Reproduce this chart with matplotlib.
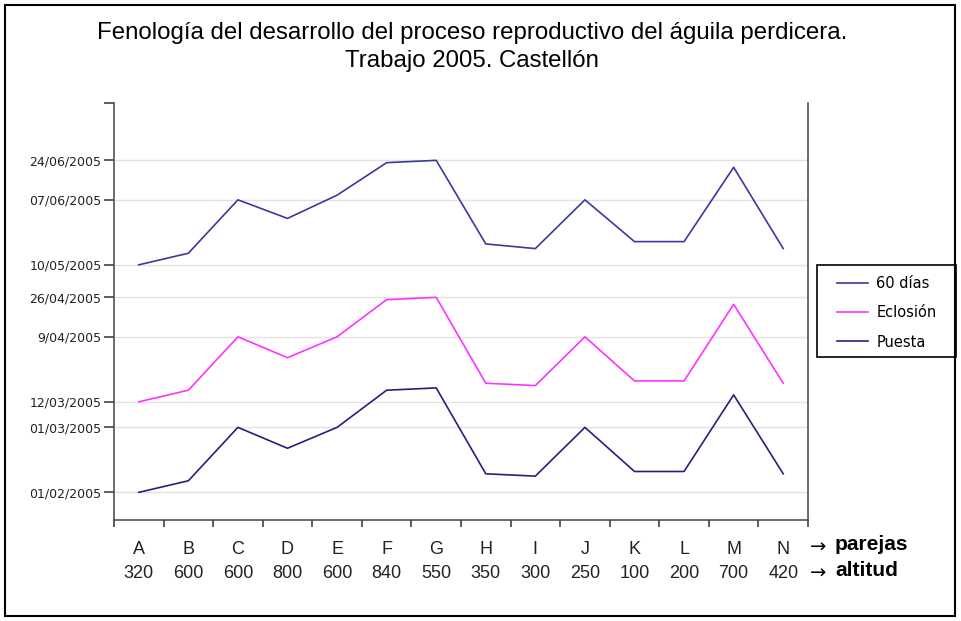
import matplotlib
matplotlib.use('Agg')
import matplotlib.pyplot as plt
import matplotlib.dates as mdates
import matplotlib.transforms as mtransforms
from matplotlib.patches import Rectangle
import numpy as np

# categorias (parejas) y altitud
parejas = ['A', 'B', 'C', 'D', 'E', 'F', 'G', 'H', 'I', 'J', 'K', 'L', 'M', 'N']
altitud = [320, 600, 600, 800, 600, 840, 550, 350, 300, 250, 100, 200, 700, 420]

# fechas
puesta = ['2005-02-01', '2005-02-06', '2005-03-01', '2005-02-20', '2005-03-01',
          '2005-03-17', '2005-03-18', '2005-02-09', '2005-02-08', '2005-03-01',
          '2005-02-10', '2005-02-10', '2005-03-15', '2005-02-09']
eclosion = ['2005-03-12', '2005-03-17', '2005-04-09', '2005-03-31', '2005-04-09',
            '2005-04-25', '2005-04-26', '2005-03-20', '2005-03-19', '2005-04-09',
            '2005-03-21', '2005-03-21', '2005-04-23', '2005-03-20']
sesenta = ['2005-05-10', '2005-05-15', '2005-06-07', '2005-05-30', '2005-06-09',
           '2005-06-23', '2005-06-24', '2005-05-19', '2005-05-17', '2005-06-07',
           '2005-05-20', '2005-05-20', '2005-06-21', '2005-05-17']

# marcas del eje y
ytick_dates = ['2005-02-01', '2005-03-01', '2005-03-12', '2005-04-09',
               '2005-04-26', '2005-05-10', '2005-06-07', '2005-06-24']
ytick_labels = ['01/02/2005', '01/03/2005', '12/03/2005', '9/04/2005',
                '26/04/2005', '10/05/2005', '07/06/2005', '24/06/2005']

def to_num(lst):
    return mdates.datestr2num(lst)

W, H = 961, 621
fig = plt.figure(figsize=(W / 100, H / 100), dpi=100)
fig.patch.set_facecolor('white')

ax = fig.add_axes([114 / W, 1 - 520 / H, 694 / W, 417 / H])
x = np.arange(len(parejas))

l60, = ax.plot(x, to_num(sesenta), color='#3a3a9c', lw=1.2, label='60 días')
lec, = ax.plot(x, to_num(eclosion), color='#ff33ff', lw=1.2, label='Eclosión')
lpu, = ax.plot(x, to_num(puesta), color='#22227e', lw=1.2, label='Puesta')

base = mdates.datestr2num('2005-02-01')
ax.set_ylim(base - 11.9, base + 167.7)
ax.set_xlim(-0.5, len(parejas) - 0.5)

ax.set_yticks(to_num(ytick_dates))
ax.set_yticklabels(ytick_labels, fontsize=9, family='DejaVu Sans', color='#222222')
ax.set_yticks([base + 167.7], minor=True)
ax.tick_params(axis='y', which='both', direction='out', length=7, width=1.1,
               color='#333333', pad=2)
ax.grid(axis='y', which='major', color='#e2e2e2', lw=1)
ax.set_axisbelow(True)

ax.set_xticks(np.arange(len(parejas) + 1) - 0.5)
ax.set_xticklabels([])
ax.tick_params(axis='x', direction='out', length=5, width=1.1, color='#333333')

for side in ['left', 'bottom', 'right']:
    ax.spines[side].set_color('#444444')
    ax.spines[side].set_linewidth(1.1)
ax.spines['top'].set_visible(False)

trans = mtransforms.blended_transform_factory(ax.transData, fig.transFigure)
for i in range(len(parejas)):
    ax.text(i, 1 - 549 / H, parejas[i], transform=trans, ha='center', va='center',
            fontsize=13, family='Liberation Sans', color='#222222')
    ax.text(i, 1 - 574 / H, str(altitud[i]), transform=trans, ha='center', va='center',
            fontsize=13, family='Liberation Sans', color='#222222')

fig.text(818 / W, 1 - 547 / H, '→', ha='center', va='center', fontsize=14,
         family='DejaVu Sans')
fig.text(835 / W, 1 - 545 / H, 'parejas', ha='left', va='center', fontsize=15,
         fontweight='bold', family='Liberation Sans')
fig.text(818 / W, 1 - 573 / H, '→', ha='center', va='center', fontsize=14,
         family='DejaVu Sans')
fig.text(835 / W, 1 - 571 / H, 'altitud', ha='left', va='center', fontsize=15,
         fontweight='bold', family='Liberation Sans')

fig.text(472 / W, 1 - 33 / H, 'Fenología del desarrollo del proceso reproductivo del águila perdicera.',
         ha='center', va='center', fontsize=17.3, family='Liberation Sans')
fig.text(472 / W, 1 - 61 / H, 'Trabajo 2005. Castellón',
         ha='center', va='center', fontsize=17.3, family='Liberation Sans')

# caja de la leyenda
fig.patches.append(Rectangle((817 / W, 1 - 357 / H), 139 / W, 92 / H, transform=fig.transFigure,
                             fill=False, edgecolor='black', lw=1.2))
leg = fig.legend(handles=[l60, lec, lpu], loc='upper left',
                 bbox_to_anchor=(837 / W, 1 - 276 / H), bbox_transform=fig.transFigure,
                 borderaxespad=0, borderpad=0, frameon=False,
                 prop={'family': 'DejaVu Sans', 'size': 10.5}, handlelength=2.1,
                 handletextpad=0.6, labelspacing=0.98)

fig.patches.append(Rectangle((5 / W, 5 / H), 950 / W, 611 / H, transform=fig.transFigure,
                             fill=False, edgecolor='black', lw=1.5))

fig.savefig('out.png', dpi=100)
